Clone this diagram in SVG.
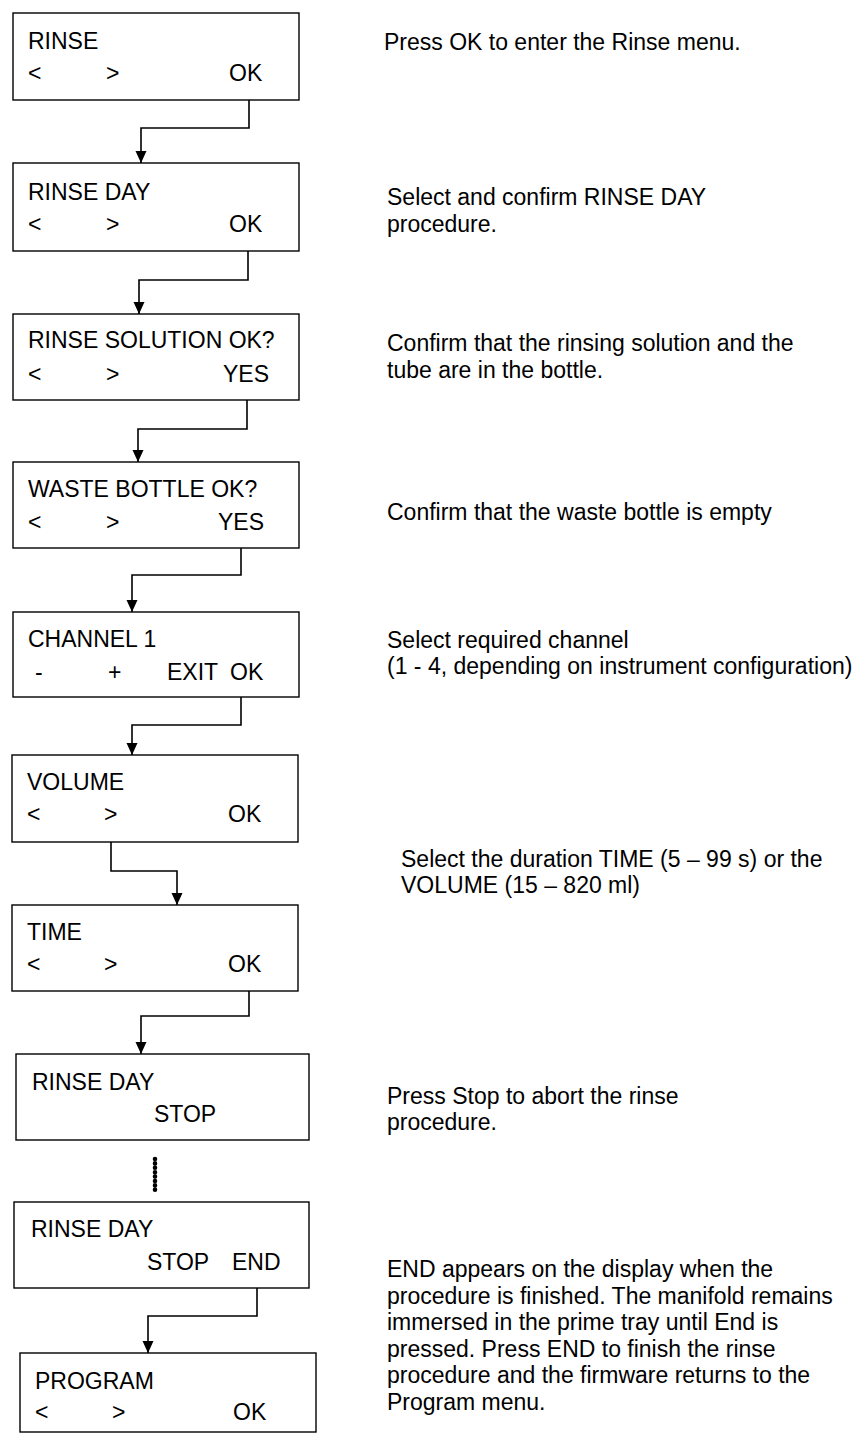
<svg xmlns="http://www.w3.org/2000/svg" width="860" height="1434" viewBox="0 0 860 1434">
<defs>
<style>
text{font-family:"Liberation Sans",Arial,sans-serif;font-size:23px;fill:#000}
.box{fill:#fff;stroke:#000;stroke-width:1.4}
.con{fill:none;stroke:#000;stroke-width:1.6}
</style>
<marker id="arr" markerUnits="userSpaceOnUse" markerWidth="12" markerHeight="12" viewBox="0 0 12 12" refX="12" refY="6" orient="auto">
<path d="M0,0.5 L12,6 L0,11.5 Z" fill="#000"/>
</marker>
</defs>
<rect width="860" height="1434" fill="#fff"/>
<g id="connectors">
<path class="con" d="M249,100 V128 H141 V163" marker-end="url(#arr)"/>
<path class="con" d="M248,251 V280 H139 V314" marker-end="url(#arr)"/>
<path class="con" d="M247,400 V429 H138 V462" marker-end="url(#arr)"/>
<path class="con" d="M241,548 V575 H132 V612" marker-end="url(#arr)"/>
<path class="con" d="M241,697 V725 H132 V755" marker-end="url(#arr)"/>
<path class="con" d="M111,842 V871 H177 V905" marker-end="url(#arr)"/>
<path class="con" d="M249,988 V1016 H141 V1054" marker-end="url(#arr)"/>
<path class="con" d="M257,1288 V1316 H148 V1353" marker-end="url(#arr)"/>
<line x1="155" y1="1159" x2="155" y2="1190" stroke="#000" stroke-width="4.6" stroke-linecap="round" stroke-dasharray="0 4.4"/>
</g>
<g id="n1"><rect class="box" x="13" y="13" width="286" height="87"/><text x="28" y="49">RINSE</text><text x="28" y="81">&lt;</text><text x="106" y="81">&gt;</text><text x="229" y="81">OK</text></g>
<g id="n2"><rect class="box" x="13" y="163" width="286" height="88"/><text x="28" y="200">RINSE DAY</text><text x="28" y="232">&lt;</text><text x="106" y="232">&gt;</text><text x="229" y="232">OK</text></g>
<g id="n3"><rect class="box" x="13" y="314" width="286" height="86"/><text x="28" y="348">RINSE SOLUTION OK?</text><text x="28" y="382">&lt;</text><text x="106" y="382">&gt;</text><text x="223" y="382">YES</text></g>
<g id="n4"><rect class="box" x="13" y="462" width="286" height="86"/><text x="28" y="497">WASTE BOTTLE OK?</text><text x="28" y="530">&lt;</text><text x="106" y="530">&gt;</text><text x="218" y="530">YES</text></g>
<g id="n5"><rect class="box" x="13" y="612" width="286" height="85"/><text x="28" y="647">CHANNEL 1</text><text x="35" y="680">-</text><text x="108" y="680">+</text><text x="167" y="680">EXIT</text><text x="230" y="680">OK</text></g>
<g id="n6"><rect class="box" x="12" y="755" width="286" height="87"/><text x="27" y="790">VOLUME</text><text x="27" y="822">&lt;</text><text x="104" y="822">&gt;</text><text x="228" y="822">OK</text></g>
<g id="n7"><rect class="box" x="12" y="905" width="286" height="86"/><text x="27" y="940">TIME</text><text x="27" y="972">&lt;</text><text x="104" y="972">&gt;</text><text x="228" y="972">OK</text></g>
<g id="n8"><rect class="box" x="16" y="1054" width="293" height="86"/><text x="32" y="1090">RINSE DAY</text><text x="154" y="1122">STOP</text></g>
<g id="n9"><rect class="box" x="14" y="1202" width="295" height="86"/><text x="31" y="1237">RINSE DAY</text><text x="147" y="1270">STOP</text><text x="232" y="1270">END</text></g>
<g id="n10"><rect class="box" x="20" y="1353" width="296" height="79"/><text x="35" y="1389">PROGRAM</text><text x="35" y="1420">&lt;</text><text x="112" y="1420">&gt;</text><text x="233" y="1420">OK</text></g>
<g id="notes">
<text x="384" y="50">Press OK to enter the Rinse menu.</text>
<text x="387" y="205">Select and confirm RINSE DAY</text>
<text x="387" y="232">procedure.</text>
<text x="387" y="351">Confirm that the rinsing solution and the</text>
<text x="387" y="378">tube are in the bottle.</text>
<text x="387" y="520">Confirm that the waste bottle is empty</text>
<text x="387" y="648">Select required channel</text>
<text x="387" y="674">(1 - 4, depending on instrument configuration)</text>
<text x="401" y="867">Select the duration TIME (5 – 99 s) or the</text>
<text x="401" y="893">VOLUME (15 – 820 ml)</text>
<text x="387" y="1104">Press Stop to abort the rinse</text>
<text x="387" y="1130">procedure.</text>
<text x="387" y="1277">END appears on the display when the</text>
<text x="387" y="1304">procedure is finished. The manifold remains</text>
<text x="387" y="1330">immersed in the prime tray until End is</text>
<text x="387" y="1357">pressed. Press END to finish the rinse</text>
<text x="387" y="1383">procedure and the firmware returns to the</text>
<text x="387" y="1410">Program menu.</text>
</g>
</svg>
